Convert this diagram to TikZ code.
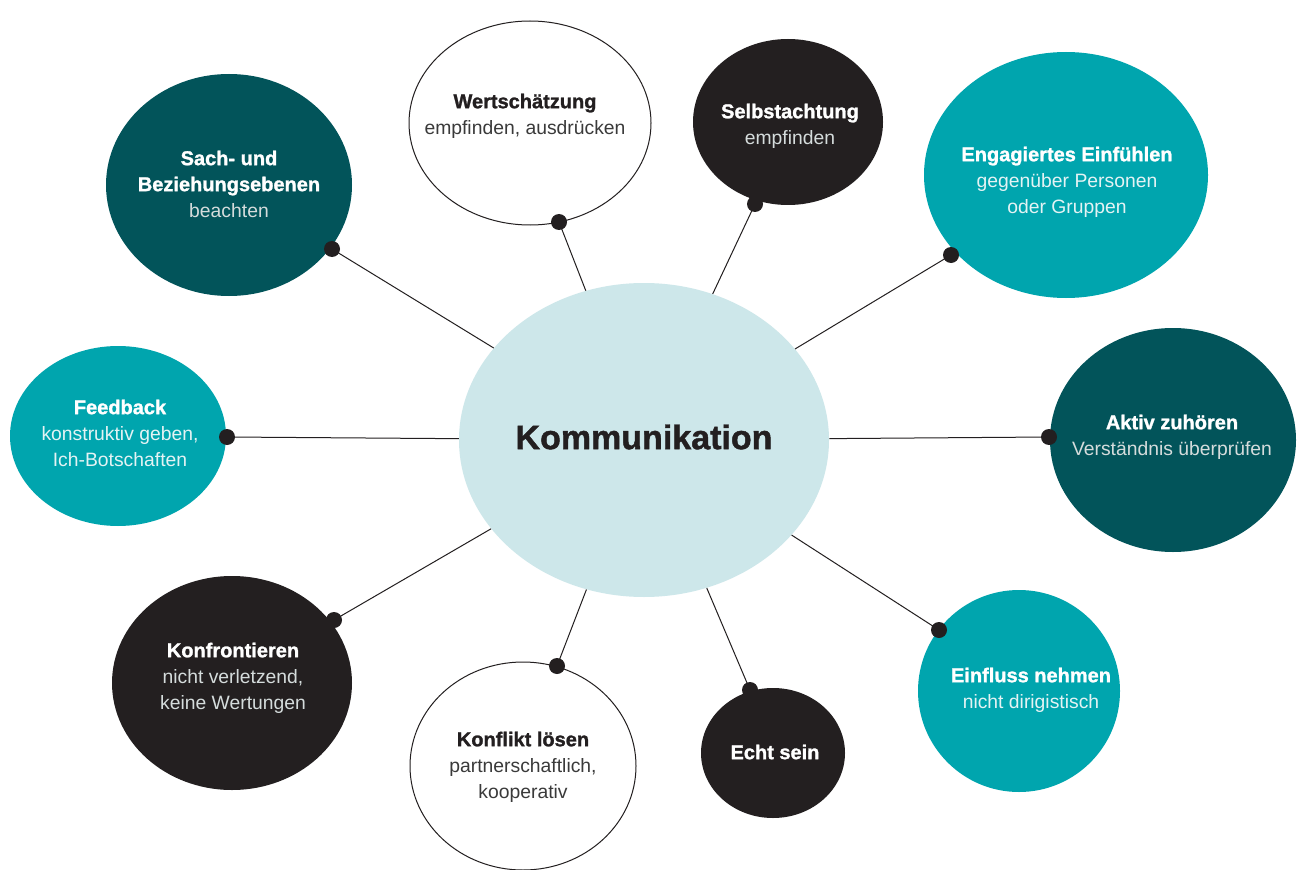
\documentclass[tikz,border=0pt]{standalone}
\usepackage{fontspec}
\setmainfont{Liberation Sans}
\newfontfamily\heavyfam{Liberation Sans}[BoldFeatures={FakeBold=1.3}]
\usetikzlibrary{shapes.geometric}
\definecolor{darkteal}{HTML}{02545A}
\definecolor{tealc}{HTML}{00A5AE}
\definecolor{blackc}{HTML}{231F20}
\definecolor{lightc}{HTML}{CDE7EA}
\definecolor{subdark}{HTML}{D5DCDC}
\definecolor{subteal}{HTML}{E4F3F4}
\definecolor{subwhite}{HTML}{3A3A3A}
\newcommand{\ttl}{\heavyfam\bfseries\fontsize{15}{19.5}\selectfont}
\newcommand{\sbtx}[2]{{\normalfont\fontsize{14.5}{19.5}\selectfont\color{#1}#2}}
\tikzset{
  bubble/.style={ellipse, inner sep=0pt, draw=none},
  dot/.style={circle, fill=blackc, inner sep=0pt, minimum size=12pt},
  conn/.style={draw=blackc, line width=0.75pt},
  lbl/.style={align=center, inner sep=0pt, font=\ttl},
}
\begin{document}
\begin{tikzpicture}[x=0.75pt,y=-0.75pt]
\useasboundingbox[fill=white] (0,0) rectangle (1303,870);
% centre
\node[bubble, fill=lightc, minimum width=277.5pt, minimum height=235.5pt] (k) at (644,440) {};
% bubbles
\node[bubble, fill=darkteal, minimum width=184.5pt, minimum height=166.5pt] (b1) at (229,185) {};
\node[bubble, fill=white, draw=blackc, line width=0.75pt, minimum width=181.5pt, minimum height=153pt] (b2) at (530,123) {};
\node[bubble, fill=blackc, minimum width=142.5pt, minimum height=124.5pt] (b3) at (788,122) {};
\node[bubble, fill=tealc, minimum width=213pt, minimum height=184.5pt] (b4) at (1066,175) {};
\node[bubble, fill=darkteal, minimum width=184.5pt, minimum height=168pt] (b5) at (1173,440) {};
\node[bubble, fill=tealc, minimum width=151.5pt, minimum height=151.5pt] (b6) at (1019,691) {};
\node[bubble, fill=blackc, minimum width=108pt, minimum height=97.5pt] (b7) at (773,753) {};
\node[bubble, fill=white, draw=blackc, line width=0.75pt, minimum width=169.5pt, minimum height=156pt] (b8) at (523,766) {};
\node[bubble, fill=blackc, minimum width=180pt, minimum height=160.5pt] (b9) at (232,683) {};
\node[bubble, fill=tealc, minimum width=162pt, minimum height=135pt] (b10) at (118,436) {};
% dots
\node[dot] (d1) at (332,249) {};
\node[dot] (d2) at (559,222) {};
\node[dot] (d3) at (755,204) {};
\node[dot] (d4) at (951,255) {};
\node[dot] (d5) at (1049,437) {};
\node[dot] (d6) at (939,630) {};
\node[dot] (d7) at (750,690) {};
\node[dot] (d8) at (557,666) {};
\node[dot] (d9) at (334,620) {};
\node[dot] (d10) at (227,437) {};
% connectors
\foreach \i in {1,...,10} { \draw[conn] (d\i.center) -- (k); }
% labels
\node[lbl, text=blackc, font=\heavyfam\bfseries\fontsize{25.5}{30}\selectfont] (tk) at (644,437) {Kommunikation};
\node[lbl, text=white] (t1) at (229,184) {Sach- und\\Beziehungsebenen\\\sbtx{subdark}{beachten}};
\node[lbl, text=blackc] (t2) at (525,116) {Wertschätzung\\\sbtx{subwhite}{empfinden, ausdrücken}};
\node[lbl, text=white] (t3) at (790,126) {Selbstachtung\\\sbtx{subdark}{empfinden}};
\node[lbl, text=white] (t4) at (1067,182) {Engagiertes Einfühlen\\\sbtx{subteal}{gegenüber Personen}\\\sbtx{subteal}{oder Gruppen}};
\node[lbl, text=white] (t5) at (1172,437) {Aktiv zuhören\\\sbtx{subdark}{Verständnis überprüfen}};
\node[lbl, text=white] (t6) at (1031,690) {Einfluss nehmen\\\sbtx{subteal}{nicht dirigistisch}};
\node[lbl, text=white] (t7) at (775,752) {Echt sein};
\node[lbl, text=blackc] (t8) at (523,767) {Konflikt lösen\\\sbtx{subwhite}{partnerschaftlich,}\\\sbtx{subwhite}{kooperativ}};
\node[lbl, text=white] (t9) at (233,678) {Konfrontieren\\\sbtx{subdark}{nicht verletzend,}\\\sbtx{subdark}{keine Wertungen}};
\node[lbl, text=white] (t10) at (120,433) {Feedback\\\sbtx{subteal}{konstruktiv geben,}\\\sbtx{subteal}{Ich-Botschaften}};
\end{tikzpicture}
\end{document}
